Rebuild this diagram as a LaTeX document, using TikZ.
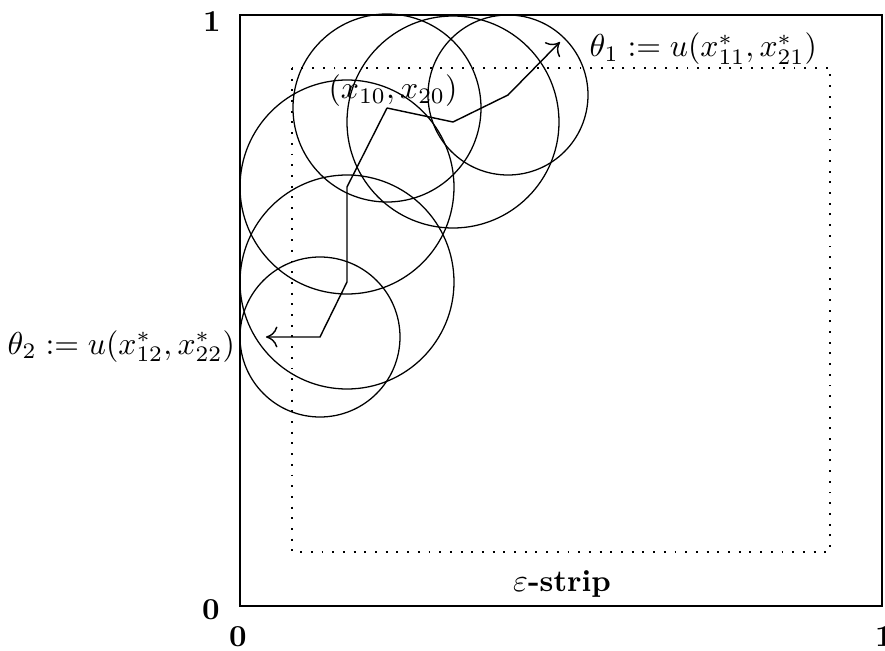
\documentclass[tikz,border=0pt]{standalone}
\usetikzlibrary{arrows.meta}
\begin{document}
\begin{tikzpicture}[x=0.315pt,y=-0.315pt,
  font=\fontsize{9.6pt}{11.5pt}\selectfont,
  disk/.style={circle,draw,inner sep=0pt,minimum size=#1*0.63pt},
  lbl/.style={inner sep=0pt},
  dotline/.style={line width=0.6pt,dash pattern=on 0.6pt off 2.77pt},
  walk/.style={line width=0.45pt},
  tip/.style={-{To[length=3.6pt,width=6.6pt]}}]
\useasboundingbox (0,0) rectangle (885,651);
\draw[line width=0.45pt] (240,15) rectangle (882,606);
\draw[dotline] (292,68) rectangle (830,552);
% circles
\node[disk=94]  (A) at (387,108) {};
\node[disk=106] (B) at (453,122) {};
\node[disk=80]  (C) at (508,95) {};
\node[disk=107] (D) at (347,187) {};
\node[disk=107] (E) at (347,282) {};
\node[disk=80]  (F) at (320,337) {};
\coordinate (end1) at (560,42);
\coordinate (end2) at (266,337);
\draw[walk,tip] (A.center) -- (B.center) -- (C.center) -- (end1);
\draw[walk,tip] (A.center) -- (D.center) -- (E.center) -- (F.center) -- (end2);
% labels
\node[lbl,anchor=base west] (start) at (328,99) {$(x_{10},x_{20})$};
\node[lbl,anchor=base west] (t1) at (589,57) {$\theta_1:=u(x^*_{11},x^*_{21})$};
\node[lbl,anchor=base west] (t2) at (7,354) {$\theta_2:=u(x^*_{12},x^*_{22})$};
\node[lbl] (y1) at (212,22) {\textbf{1}};
\node[lbl] (y0) at (211,610) {\textbf{0}};
\node[lbl] (x0) at (238,637) {\textbf{0}};
\node[lbl] (x1) at (884,637) {\textbf{1}};
\node[lbl] (strip) at (562,584) {$\varepsilon$\textbf{-strip}};
\end{tikzpicture}
\end{document}
